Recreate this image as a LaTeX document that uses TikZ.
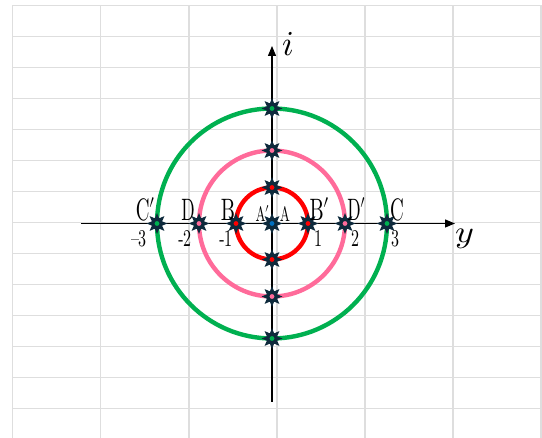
\documentclass[tikz,border=0pt]{standalone}
\usepackage{unicode-math}
\usetikzlibrary{shapes.geometric,arrows.meta}
\definecolor{gridgray}{HTML}{DEDEDE}
\definecolor{ringred}{HTML}{FF0000}
\definecolor{ringpink}{HTML}{FF6B9A}
\definecolor{ringgreen}{HTML}{00B050}
\definecolor{markblue}{HTML}{0070C0}
\definecolor{marknavy}{HTML}{0E2A3C}
% stretched label: x factor, y factor, math content
\newcommand{\lbl}[3]{\scalebox{#1}[#2]{$#3$}}
\tikzset{
  gridline/.style={gridgray, line width=1.6pt},
  ring/.style={line width=4.4pt},
  axis/.style={line width=1.2pt, -{Triangle[length=10pt,width=8pt]}},
  starmark/.style={star, star points=8, star point ratio=1.9, fill=marknavy,
    inner sep=0pt, minimum size=21pt,
    path picture={\fill[#1] (path picture bounding box.center) circle (2.4pt);}},
  txt/.style={inner sep=0pt}
}
\begin{document}
\begin{tikzpicture}[x=1pt, y=1pt]
  % Fix the frame
  \useasboundingbox (0,0) rectangle (542,438);
  % Draw the background grid
  \foreach \gx in {12.5,100.5,189,277,365,453,541}
    \draw[gridline] (\gx,0) -- (\gx,432.5);
  \foreach \k in {0,...,13}
    \draw[gridline] (12.5,{432.5-31*\k}) -- (542,{432.5-31*\k});
  \begin{scope}[shift={(272,214.5)}]
    \coordinate (O) at (0,0);
    % Draw the circles
    \draw[ring, ringred] (O) circle (36pt);
    \draw[ring, ringpink] (O) circle (73pt);
    \draw[ring, ringgreen] (O) circle (115pt);
    % Draw the axes
    \coordinate (xl) at (-191,0);
    \coordinate (xr) at (183,0);
    \coordinate (yb) at (0,-178.5);
    \coordinate (yt) at (0,177.5);
    \draw[axis] (xl) -- (xr);
    \draw[axis] (yb) -- (yt);
    % Place the stars
    \node[starmark=markblue] (A) at (O) {};
    \foreach \r/\c/\n in {36/ringred/red, 73/ringpink/pink, 115/ringgreen/green} {
      \node[starmark=\c] (\n E) at (\r,0) {};
      \node[starmark=\c] (\n W) at (-\r,0) {};
      \node[starmark=\c] (\n N) at (0,\r) {};
      \node[starmark=\c] (\n S) at (0,-\r) {};
    }
    % Point labels
    \node[txt, anchor=base] (labCp) at (-126,3) {\lbl{1.9}{3.1}{\mathrm{C}'}};
    \node[txt, anchor=base] (labD) at (-84,3) {\lbl{1.75}{3.1}{\mathrm{D}}};
    \node[txt, anchor=base] (labB) at (-44,3) {\lbl{2}{3.1}{\mathrm{B}}};
    \node[txt, anchor=base] (labAp) at (-9,2) {\lbl{1.35}{2.1}{\mathrm{A}'}};
    \node[txt, anchor=base] (labA) at (13,2) {\lbl{1.35}{2.1}{\mathrm{A}}};
    \node[txt, anchor=base] (labBp) at (48,3) {\lbl{2}{3.1}{\mathrm{B}'}};
    \node[txt, anchor=base] (labDp) at (85,3) {\lbl{1.75}{3.1}{\mathrm{D}'}};
    \node[txt, anchor=base] (labC) at (125,3) {\lbl{1.9}{3.1}{\mathrm{C}}};
    % Tick labels
    \node[txt, anchor=base] (tm3) at (-133,-23) {\lbl{1.6}{2.4}{\text{--}3}};
    \node[txt, anchor=base] (tm2) at (-87,-23) {\lbl{1.6}{2.4}{\text{-}2}};
    \node[txt, anchor=base] (tm1) at (-46,-23) {\lbl{1.6}{2.4}{\text{-}1}};
    \node[txt, anchor=base] (tp1) at (46,-23) {\lbl{1.6}{2.4}{1}};
    \node[txt, anchor=base] (tp2) at (83,-23) {\lbl{1.6}{2.4}{2}};
    \node[txt, anchor=base] (tp3) at (123,-23) {\lbl{1.6}{2.4}{3}};
    % Axis labels
    \node[txt, anchor=base] (labi) at (16,168) {\lbl{3.4}{3.5}{i}};
    \node[txt, anchor=base] (laby) at (193,-19.5) {\lbl{3.6}{3.1}{y}};
  \end{scope}
\end{tikzpicture}
\end{document}
